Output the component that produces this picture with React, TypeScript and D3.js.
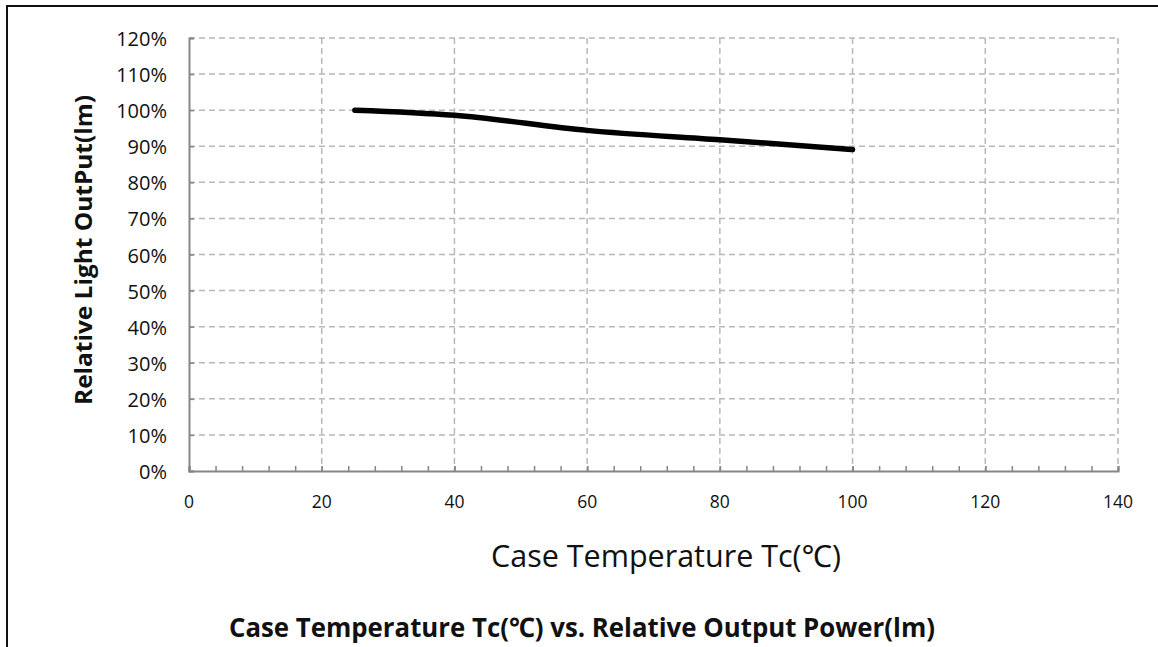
import * as d3 from 'd3';
import { useEffect, useRef } from 'react';

// 温度 (℃) と相対光出力 (%)
const temps = [25, 40, 60, 80, 100];
const output = [100, 98.6, 94.4, 91.8, 89.1];
const xTicks = [0, 20, 40, 60, 80, 100, 120, 140];
const yTicks = [0, 10, 20, 30, 40, 50, 60, 70, 80, 90, 100, 110, 120];

const xLabel = 'Case Temperature Tc(℃)';
const yLabel = 'Relative Light OutPut(lm)';
const title = 'Case Temperature Tc(℃) vs. Relative Output Power(lm)';

export default function App() {
  const ref = useRef<HTMLDivElement>(null);

  const width = 1158;
  const height = 647;
  const marginLeft = 189;
  const marginRight = 40;
  const marginTop = 38;
  const plotBottom = 471;

  useEffect(() => {
    if (!ref.current) return;

    const x = d3.scaleLinear().domain([0, 140]).range([marginLeft, width - marginRight]);
    const y = d3.scaleLinear().domain([0, 120]).range([plotBottom, marginTop]);

    const svg = d3
      .create('svg')
      .attr('width', width)
      .attr('height', height)
      .style('position', 'absolute')
      .style('left', '0px')
      .style('top', '0px')
      .style('font-family', '"Open Sans", "Noto Sans", sans-serif');

    svg.append('rect').attr('width', width).attr('height', height).attr('fill', '#fff');

    // 外枠
    svg
      .append('rect')
      .attr('x', 7)
      .attr('y', 6)
      .attr('width', width + 20)
      .attr('height', height + 20)
      .attr('fill', 'none')
      .attr('stroke', '#111')
      .attr('stroke-width', 2);

    // 横のグリッド線
    svg
      .append('g')
      .selectAll('line')
      .data(yTicks.filter((d) => d > 0))
      .join('line')
      .attr('x1', marginLeft)
      .attr('x2', width - marginRight)
      .attr('y1', (d) => y(d))
      .attr('y2', (d) => y(d))
      .attr('stroke', '#b8b8b8')
      .attr('stroke-width', 1.5)
      .attr('stroke-dasharray', '6 4');

    // 縦のグリッド線
    svg
      .append('g')
      .selectAll('line')
      .data(xTicks.filter((d) => d > 0))
      .join('line')
      .attr('x1', (d) => x(d))
      .attr('x2', (d) => x(d))
      .attr('y1', marginTop)
      .attr('y2', plotBottom)
      .attr('stroke', '#b8b8b8')
      .attr('stroke-width', 1.5)
      .attr('stroke-dasharray', '6 4');

    // 軸
    const axisColor = '#868686';
    svg
      .append('g')
      .attr('transform', `translate(0,${plotBottom})`)
      .call(
        d3
          .axisBottom(x)
          .tickValues(d3.range(0, 141, 4).concat(xTicks))
          .tickSize(-5)
          .tickFormat(() => '')
      )
      .call((g) => g.select('.domain').attr('stroke', axisColor).attr('stroke-width', 2))
      .call((g) => g.selectAll('.tick line').attr('stroke', axisColor).attr('stroke-width', 1.5));

    svg
      .append('g')
      .attr('transform', `translate(${marginLeft},0)`)
      .call(d3.axisLeft(y).tickValues(yTicks).tickSize(-5).tickFormat(() => ''))
      .call((g) => g.select('.domain').attr('stroke', axisColor).attr('stroke-width', 2))
      .call((g) => g.selectAll('.tick line').attr('stroke', axisColor).attr('stroke-width', 1.5));

    // 目盛りラベル
    svg
      .append('g')
      .selectAll('text')
      .data(yTicks)
      .join('text')
      .attr('x', marginLeft - 22)
      .attr('y', (d) => y(d) + 1)
      .attr('dy', '0.35em')
      .attr('text-anchor', 'end')
      .attr('font-size', 20)
      .attr('fill', '#111')
      .text((d) => `${d}%`);

    svg
      .append('g')
      .selectAll('text')
      .data(xTicks)
      .join('text')
      .attr('x', (d) => x(d))
      .attr('y', 502)
      .attr('dy', '0.35em')
      .attr('text-anchor', 'middle')
      .attr('font-size', 17.5)
      .attr('fill', '#111')
      .text((d) => d);

    // 折れ線
    const line = d3
      .line<number>()
      .x((_, i) => x(temps[i]))
      .y((d) => y(d))
      .curve(d3.curveMonotoneX);

    svg
      .append('path')
      .datum(output)
      .attr('fill', 'none')
      .attr('stroke', '#000')
      .attr('stroke-width', 5.5)
      .attr('stroke-linecap', 'round')
      .attr('d', line);

    // タイトル類
    svg
      .append('text')
      .attr('x', 666)
      .attr('y', 556)
      .attr('dy', '0.35em')
      .attr('text-anchor', 'middle')
      .attr('font-size', 30.5)
      .attr('fill', '#111')
      .text(xLabel);

    svg
      .append('text')
      .attr('transform', `translate(84,250) rotate(-90)`)
      .attr('dy', '0.35em')
      .attr('text-anchor', 'middle')
      .attr('font-size', 24)
      .attr('font-weight', 'bold')
      .attr('fill', '#111')
      .attr('textLength', 310)
      .attr('lengthAdjust', 'spacingAndGlyphs')
      .text(yLabel);

    svg
      .append('text')
      .attr('x', 582)
      .attr('y', 628)
      .attr('dy', '0.35em')
      .attr('text-anchor', 'middle')
      .attr('font-size', 27)
      .attr('font-weight', 'bold')
      .attr('fill', '#111')
      .attr('textLength', 706)
      .attr('lengthAdjust', 'spacingAndGlyphs')
      .text(title);

    ref.current.innerHTML = '';
    ref.current.appendChild(svg.node()!);
  }, [ref]);

  return <div ref={ref} />;
}
